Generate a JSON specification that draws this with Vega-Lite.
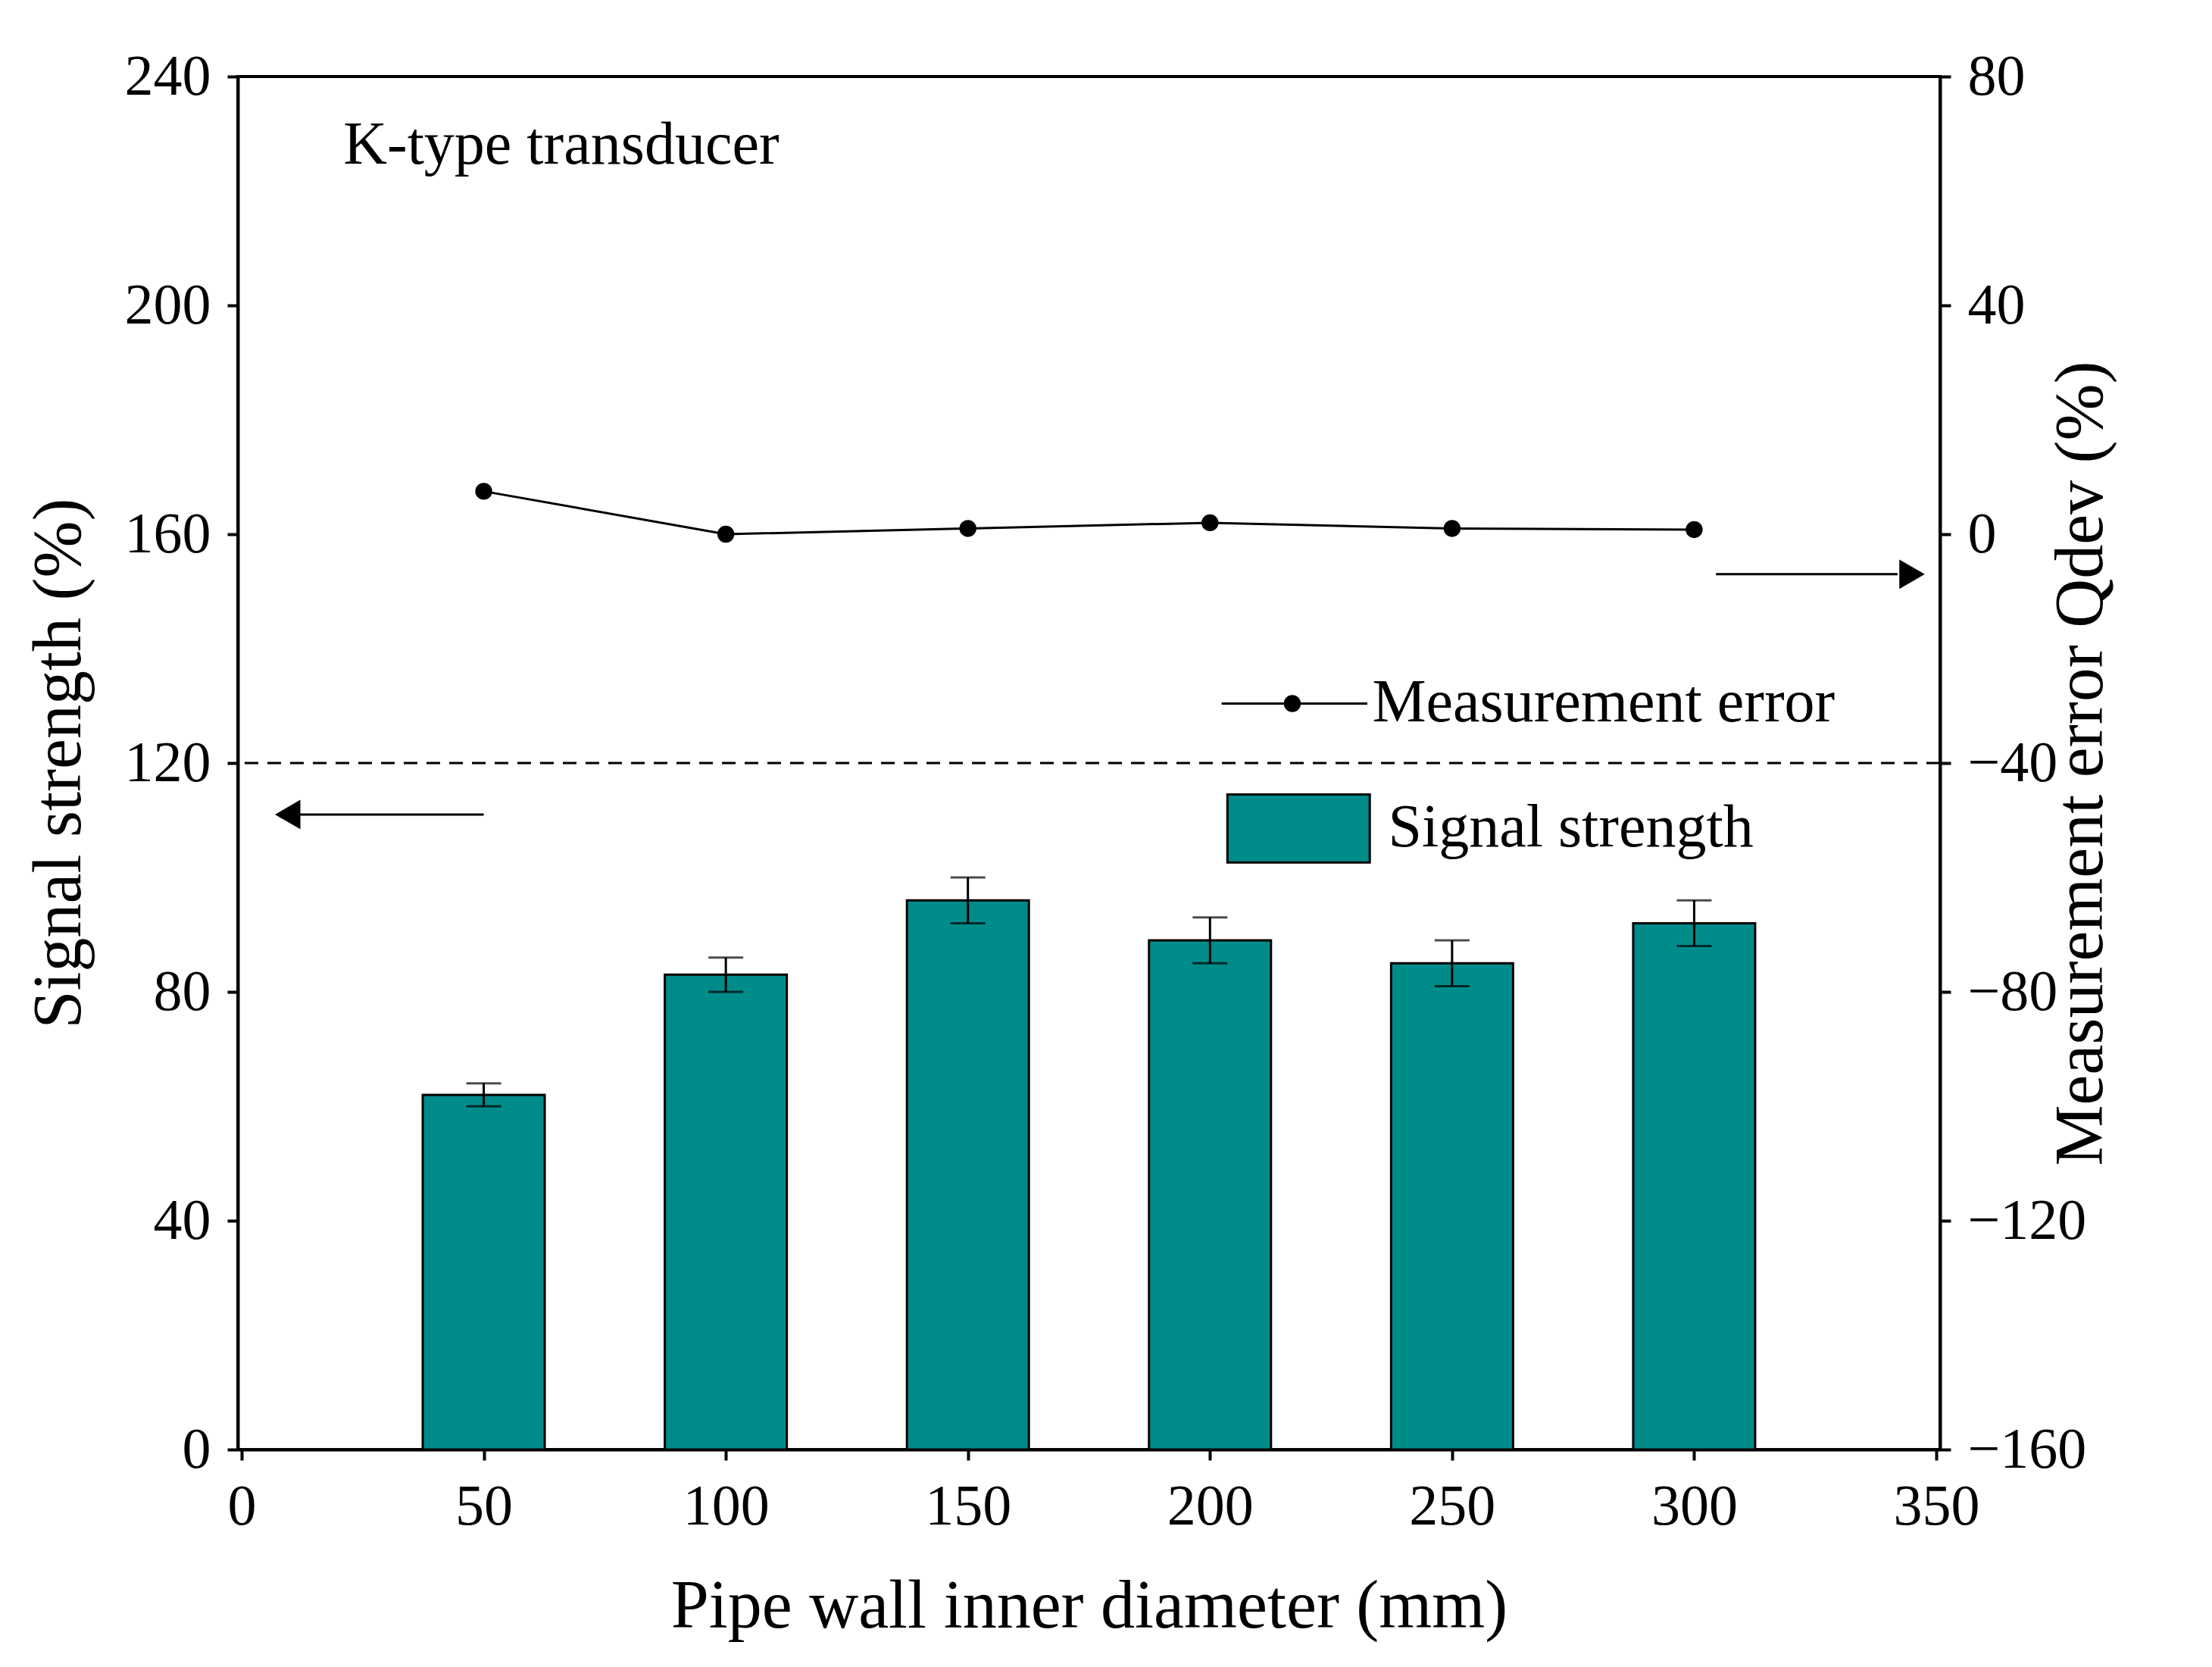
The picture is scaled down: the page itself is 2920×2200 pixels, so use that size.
{
  "$schema": "https://vega.github.io/schema/vega-lite/v6.json",
  "width": 2247, "height": 1812,
  "autosize": "none",
  "padding": {"left": 314, "top": 101, "right": 359, "bottom": 287},
  "background": "white",
  "config": {
    "view": {"stroke": "black", "strokeWidth": 4},
    "font": "Liberation Serif",
    "axis": {"domainColor": "black", "domainWidth": 4, "tickColor": "black", "tickWidth": 4, "tickSize": 14,
      "labelFont": "Liberation Serif", "labelFontSize": 76, "labelColor": "black",
      "titleFont": "Liberation Serif", "titleFontSize": 90, "titleFontWeight": "normal", "titleColor": "black", "grid": false}
  },
  "datasets": {
    "bars": [
      {"d": 50, "s": 62, "lo": 60, "hi": 64},
      {"d": 100, "s": 83, "lo": 80, "hi": 86},
      {"d": 150, "s": 96, "lo": 92, "hi": 100},
      {"d": 200, "s": 89, "lo": 85, "hi": 93},
      {"d": 250, "s": 85, "lo": 81, "hi": 89},
      {"d": 300, "s": 92, "lo": 88, "hi": 96}
    ],
    "err": [
      {"d": 50, "e": 7.5}, {"d": 100, "e": 0}, {"d": 150, "e": 1},
      {"d": 200, "e": 2}, {"d": 250, "e": 1}, {"d": 300, "e": 0.8}
    ]
  },
  "layer": [
    {
      "layer": [
        {"data": {"name": "bars"}, "mark": {"type": "bar", "size": 161, "color": "#008B8B", "stroke": "black", "strokeWidth": 3},
          "encoding": {
            "x": {"field": "d", "type": "quantitative", "scale": {"domain": [0, 350], "nice": false}, "title": "Pipe wall inner diameter (mm)",
              "axis": {"values": [0, 50, 100, 150, 200, 250, 300, 350], "labelPadding": 24, "titlePadding": 50}},
            "y": {"field": "s", "type": "quantitative", "scale": {"domain": [0, 240], "nice": false}, "title": "Signal strength (%)",
              "axis": {"values": [0, 40, 80, 120, 160, 200, 240], "labelPadding": 22, "titlePadding": 40}}
          }},
        {"data": {"name": "bars"}, "mark": {"type": "rule", "color": "black", "strokeWidth": 3},
          "encoding": {"x": {"field": "d", "type": "quantitative"}, "y": {"field": "lo", "type": "quantitative"}, "y2": {"field": "hi"}}},
        {"data": {"name": "bars"}, "mark": {"type": "tick", "orient": "horizontal", "size": 46, "thickness": 3, "color": "black"},
          "encoding": {"x": {"field": "d", "type": "quantitative"}, "y": {"field": "lo", "type": "quantitative"}}},
        {"data": {"name": "bars"}, "mark": {"type": "tick", "orient": "horizontal", "size": 46, "thickness": 3, "color": "black"},
          "encoding": {"x": {"field": "d", "type": "quantitative"}, "y": {"field": "hi", "type": "quantitative"}}},
        {"data": {"values": [{"y": 120}]}, "mark": {"type": "rule", "color": "black", "strokeWidth": 3, "strokeDash": [18, 12]},
          "encoding": {"y": {"field": "y", "type": "quantitative"}}},
        {"data": {"values": [{"x1": 50, "x2": 12, "y": 111}, {"x1": 304.5, "x2": 342, "y": 153}]},
          "mark": {"type": "rule", "color": "black", "strokeWidth": 3},
          "encoding": {"x": {"field": "x1", "type": "quantitative"}, "x2": {"field": "x2"}, "y": {"field": "y", "type": "quantitative"}}},
        {"data": {"values": [{"x": 9.5, "y": 111, "a": 270}, {"x": 345, "y": 153, "a": 90}]},
          "mark": {"type": "point", "shape": "triangle-up", "filled": true, "color": "black", "size": 1500, "opacity": 1},
          "encoding": {"x": {"field": "x", "type": "quantitative"}, "y": {"field": "y", "type": "quantitative"}, "angle": {"field": "a", "type": "quantitative", "scale": null}}},
        {"data": {"values": [{"x1": 202.4, "x2": 232.5, "y": 130.4}]}, "mark": {"type": "rule", "color": "black", "strokeWidth": 3},
          "encoding": {"x": {"field": "x1", "type": "quantitative"}, "x2": {"field": "x2"}, "y": {"field": "y", "type": "quantitative"}}},
        {"data": {"values": [{"x": 217, "y": 130.4}]}, "mark": {"type": "point", "filled": true, "color": "black", "size": 500, "opacity": 1},
          "encoding": {"x": {"field": "x", "type": "quantitative"}, "y": {"field": "y", "type": "quantitative"}}},
        {"data": {"values": [{"x1": 203.6, "x2": 233, "y1": 102.6, "y2": 114.5}]},
          "mark": {"type": "rect", "color": "#008B8B", "stroke": "black", "strokeWidth": 3},
          "encoding": {"x": {"field": "x1", "type": "quantitative"}, "x2": {"field": "x2"}, "y": {"field": "y1", "type": "quantitative"}, "y2": {"field": "y2"}}},
        {"data": {"values": [{"x": 233.5, "y": 130.4, "t": "Measurement error"}, {"x": 236.8, "y": 108.6, "t": "Signal strength"}, {"x": 21, "y": 228, "t": "K-type transducer"}]},
          "mark": {"type": "text", "align": "left", "baseline": "middle", "fontSize": 80, "font": "Liberation Serif", "color": "black"},
          "encoding": {"x": {"field": "x", "type": "quantitative"}, "y": {"field": "y", "type": "quantitative"}, "text": {"field": "t"}}}
      ]
    },
    {
      "data": {"name": "err"},
      "layer": [
        {"mark": {"type": "line", "color": "black", "strokeWidth": 3}},
        {"mark": {"type": "point", "filled": true, "color": "black", "size": 500, "opacity": 1}}
      ],
      "encoding": {
        "x": {"field": "d", "type": "quantitative"},
        "y": {"field": "e", "type": "quantitative", "scale": {"domain": [-160, 80], "nice": false}, "title": "Measurement error Qdev (%)",
          "axis": {"orient": "right", "values": [-160, -120, -80, -40, 0, 40, 80], "labelPadding": 22, "titlePadding": 40, "titleAngle": -90}}
      }
    }
  ],
  "resolve": {"scale": {"y": "independent"}}
}
